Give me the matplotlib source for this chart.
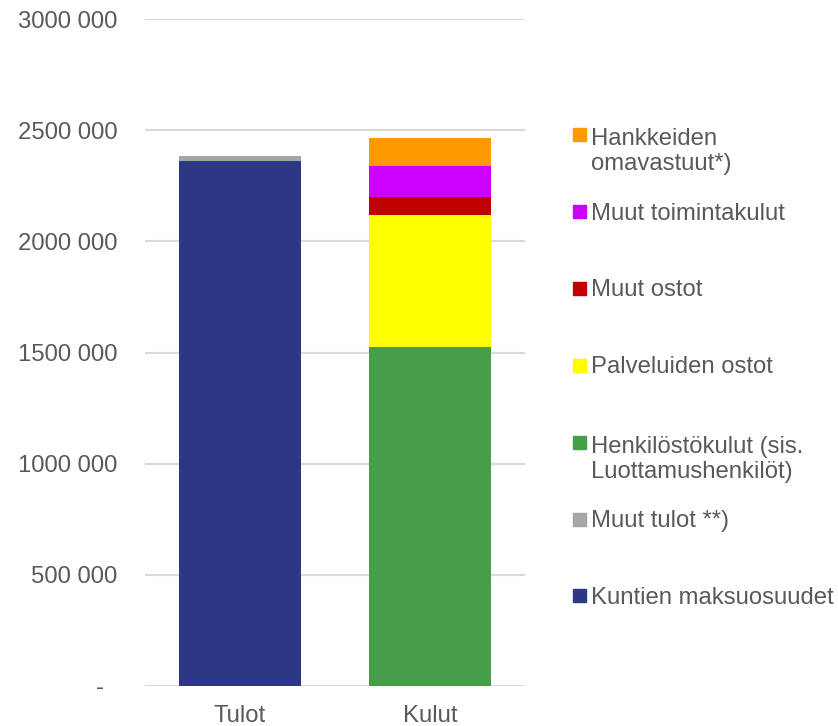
import numpy as np
import matplotlib.pyplot as plt
from matplotlib.patches import Rectangle

plt.rcParams['font.family'] = ['Liberation Sans', 'DejaVu Sans']

# data
categories = ['Tulot', 'Kulut']
series_names = ['Kuntien maksuosuudet', 'Muut tulot **)',
                'Henkilöstökulut (sis.\nLuottamushenkilöt)', 'Palveluiden ostot',
                'Muut ostot', 'Muut toimintakulut', 'Hankkeiden\nomavastuut*)']
kuntien = [2360000, 0]
muut_tulot = [26000, 0]
henkilosto = [0, 1525000]
palvelut = [0, 592000]
muut_ostot = [0, 81000]
muut_toiminta = [0, 139000]
hankkeet = [0, 126000]
colors = ['#2E3785', '#A5A5A5', '#479E48', '#FFFF00', '#C00000', '#CC00FF', '#FF9900']
yticks = [0, 500000, 1000000, 1500000, 2000000, 2500000, 3000000]
ytick_labels = ['-  ', '500 000', '1000 000', '1500 000', '2000 000', '2500 000', '3000 000']

series = [kuntien, muut_tulot, henkilosto, palvelut, muut_ostot, muut_toiminta, hankkeet]
FS = 17.2

fig = plt.figure(figsize=(8.38, 7.26), dpi=100)
ax = fig.add_axes([145/838, 40/726, 380/838, 667/726])

x = np.arange(len(categories))
bottom = np.zeros(len(categories))
for vals, c in zip(series, colors):
    ax.bar(x, vals, 0.647, bottom=bottom, color=c, zorder=3)
    bottom += np.array(vals)

ax.set_xlim(-0.5, 1.5)
ax.set_ylim(0, 3000000)
ax.set_yticks(yticks)
ax.set_yticklabels(ytick_labels)
ax.set_xticks(x)
ax.set_xticklabels(categories)
ax.grid(axis='y', color='#D9D9D9', linewidth=1.5, zorder=0)
for s in ax.spines.values():
    s.set_visible(False)
ax.tick_params(axis='both', length=0, labelsize=FS, labelcolor='#595959')
ax.tick_params(axis='y', pad=20)
ax.tick_params(axis='x', pad=14)

# legend: first lines evenly spaced, top entry = last series
W, H = 838, 726
y0, step, line_h = 134.5, 76.9, 27.3
for i, (name, c) in enumerate(zip(series_names[::-1], colors[::-1])):
    yc = y0 + i * step
    nl = name.count('\n')
    fig.patches.append(Rectangle((573/W, 1 - (yc + 6.5)/H), 13/W, 13/H,
                                 transform=fig.transFigure, color=c))
    fig.text(591/W, 1 - (yc + 8.2 + nl * line_h)/H, name, fontsize=FS,
             color='#595959', va='baseline', ha='left', linespacing=1.15)

fig.savefig('out.png', dpi=100)
